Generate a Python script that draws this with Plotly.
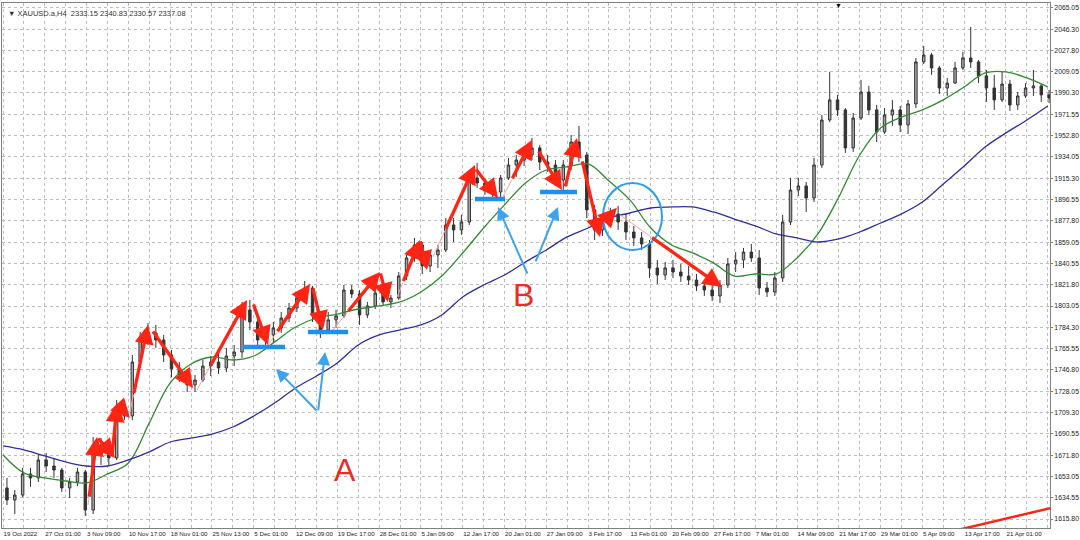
import plotly.graph_objects as go

# ---------------- data ----------------
title_text = "▼ XAUUSD.a,H4  2333.15 2340.83 2330.57 2337.08"

date_labels = ["19 Oct 2022", "27 Oct 01:00", "3 Nov 09:00", "10 Nov 17:00", "18 Nov 01:00",
               "25 Nov 13:00", "5 Dec 01:00", "12 Dec 09:00", "19 Dec 17:00", "28 Dec 01:00",
               "5 Jan 09:00", "12 Jan 17:00", "20 Jan 01:00", "27 Jan 09:00", "3 Feb 17:00",
               "13 Feb 01:00", "20 Feb 09:00", "27 Feb 17:00", "7 Mar 01:00", "14 Mar 09:00",
               "21 Mar 17:00", "29 Mar 01:00", "5 Apr 09:00", "13 Apr 17:00", "21 Apr 01:00"]
label_bars = [0, 32, 64, 96, 128, 160, 192, 224, 256, 288, 320, 352, 384, 416, 448,
              480, 512, 544, 576, 608, 640, 672, 704, 736, 768]

y_tick_labels = ["2065.05", "2046.30", "2027.80", "2009.05", "1990.30", "1971.55", "1952.80",
                 "1934.05", "1915.30", "1896.55", "1877.80", "1859.05", "1840.55", "1821.80",
                 "1803.05", "1784.30", "1765.55", "1746.80", "1728.05", "1709.30", "1690.55",
                 "1671.80", "1653.05", "1634.55", "1615.80"]

# daily candles (H4 bar index of each day's centre = 6*day + 3)
opens = [1643.1, 1632.5, 1636.9, 1655.4, 1651.9, 1667.7, 1662.4, 1658.9, 1643.1, 1648.4,
         1657.1, 1623.7, 1680.9, 1672.1, 1669.5, 1711.6, 1706.4, 1753.8, 1773.2, 1779.3,
         1773.2, 1760.0, 1747.8, 1742.4, 1733.7, 1738.0, 1750.3, 1753.8, 1748.6, 1759.1,
         1762.6, 1799.6, 1789.0, 1773.2, 1777.6, 1783.7, 1792.5, 1801.3, 1810.1, 1818.9,
         1795.2, 1782.0, 1790.8, 1794.3, 1817.1, 1813.6, 1795.2, 1803.1, 1814.5, 1806.6,
         1810.1, 1829.4, 1845.3, 1856.7, 1838.2, 1847.9, 1852.3, 1874.3, 1869.9, 1876.9,
         1915.6, 1911.2, 1906.8, 1903.3, 1915.6, 1927.0, 1931.4, 1935.8, 1942.0, 1929.6,
         1927.0, 1913.8, 1927.0, 1947.2, 1935.8, 1887.5, 1869.9, 1876.9, 1884.0, 1876.9,
         1868.1, 1862.9, 1857.6, 1836.5, 1830.3, 1836.5, 1832.9, 1829.4, 1825.9, 1820.7,
         1817.1, 1811.9, 1821.5, 1840.0, 1843.5, 1850.5, 1845.3, 1818.9, 1815.4, 1827.7,
         1876.9, 1905.0, 1908.6, 1898.0, 1927.0, 1966.6, 1984.2, 1975.4, 1942.0, 1968.3,
         1991.2, 1975.4, 1956.0, 1971.0, 1975.4, 1962.2, 1980.7, 2017.6, 2023.7, 2012.3,
         1994.7, 1999.0, 2012.3, 2021.1, 2017.6, 2005.3, 1994.7, 1984.2, 1998.2, 1979.8,
         1987.7, 1994.7, 1996.5, 1988.6]
highs = [1651.9, 1641.3, 1660.7, 1660.7, 1672.1, 1673.8, 1669.5, 1660.7, 1651.9, 1660.7,
         1658.9, 1687.9, 1687.0, 1680.9, 1720.4, 1717.8, 1760.0, 1780.2, 1788.1, 1786.4,
         1777.6, 1764.4, 1753.8, 1745.0, 1742.4, 1755.6, 1759.1, 1762.6, 1766.2, 1768.8,
         1806.6, 1808.4, 1792.5, 1783.7, 1789.0, 1797.8, 1805.7, 1813.6, 1825.0, 1820.7,
         1797.8, 1797.8, 1799.6, 1821.5, 1821.5, 1817.1, 1806.6, 1818.9, 1818.9, 1812.7,
         1832.9, 1847.9, 1862.9, 1859.3, 1852.3, 1856.7, 1880.4, 1880.4, 1883.1, 1922.6,
         1928.8, 1915.6, 1913.8, 1918.2, 1933.2, 1935.8, 1942.0, 1950.8, 1944.6, 1935.8,
         1931.4, 1931.4, 1953.4, 1961.3, 1938.5, 1891.9, 1880.4, 1889.4, 1891.2, 1884.0,
         1873.4, 1868.1, 1861.1, 1843.5, 1841.8, 1843.5, 1840.0, 1838.2, 1831.2, 1825.9,
         1822.4, 1825.9, 1845.3, 1850.5, 1854.1, 1857.6, 1852.3, 1824.2, 1832.9, 1883.1,
         1915.6, 1915.6, 1912.1, 1933.2, 1971.0, 2008.8, 1988.6, 1977.1, 1972.7, 2001.8,
         1996.5, 1979.8, 1977.1, 1984.2, 1978.9, 1984.2, 2021.1, 2031.6, 2025.5, 2014.1,
         2003.5, 2017.6, 2026.4, 2048.3, 2019.3, 2010.5, 2006.2, 2008.8, 2001.8, 1991.2,
         1999.0, 2010.5, 1998.2, 1993.0]
lows = [1628.1, 1620.2, 1635.2, 1644.0, 1648.4, 1657.1, 1651.9, 1639.6, 1634.3, 1644.8,
        1618.5, 1620.2, 1663.3, 1662.4, 1667.7, 1702.9, 1702.9, 1748.6, 1768.8, 1766.2,
        1753.8, 1740.4, 1736.3, 1727.5, 1727.5, 1736.3, 1741.5, 1743.3, 1745.0, 1750.3,
        1757.4, 1782.0, 1766.2, 1767.1, 1771.4, 1779.3, 1789.0, 1797.8, 1806.6, 1789.0,
        1775.0, 1779.3, 1783.7, 1792.5, 1810.1, 1786.4, 1792.5, 1800.4, 1803.1, 1801.3,
        1808.4, 1825.9, 1841.8, 1831.2, 1832.9, 1836.5, 1850.5, 1859.3, 1865.5, 1874.3,
        1906.8, 1900.7, 1898.0, 1897.1, 1913.8, 1916.5, 1926.1, 1931.4, 1922.6, 1920.9,
        1908.6, 1903.3, 1922.6, 1929.6, 1880.4, 1861.1, 1864.6, 1873.4, 1869.9, 1861.1,
        1855.8, 1852.3, 1827.7, 1822.4, 1825.9, 1827.7, 1824.2, 1821.5, 1816.3, 1811.9,
        1807.5, 1805.7, 1818.9, 1832.9, 1836.5, 1841.8, 1812.7, 1811.0, 1811.9, 1824.2,
        1874.3, 1899.8, 1885.7, 1894.5, 1924.4, 1964.8, 1970.1, 1937.6, 1938.5, 1966.6,
        1971.0, 1947.2, 1954.3, 1961.3, 1956.0, 1954.3, 1977.1, 2015.8, 2006.2, 1989.4,
        1987.7, 1998.2, 2010.5, 2012.3, 1999.0, 1982.4, 1975.4, 1982.4, 1974.5, 1975.4,
        1985.9, 1987.7, 1982.4, 1981.5]
closes = [1632.5, 1636.9, 1655.4, 1651.9, 1667.7, 1662.4, 1658.9, 1643.1, 1648.4, 1657.1,
          1623.7, 1680.9, 1672.1, 1669.5, 1711.6, 1706.4, 1753.8, 1773.2, 1779.3, 1773.2,
          1760.0, 1747.8, 1742.4, 1733.7, 1738.0, 1750.3, 1753.8, 1748.6, 1759.1, 1762.6,
          1799.6, 1789.0, 1773.2, 1777.6, 1783.7, 1792.5, 1801.3, 1810.1, 1818.9, 1795.2,
          1782.0, 1790.8, 1794.3, 1817.1, 1813.6, 1795.2, 1803.1, 1814.5, 1806.6, 1810.1,
          1829.4, 1845.3, 1856.7, 1838.2, 1847.9, 1852.3, 1874.3, 1869.9, 1876.9, 1915.6,
          1911.2, 1906.8, 1903.3, 1915.6, 1927.0, 1931.4, 1935.8, 1942.0, 1929.6, 1927.0,
          1913.8, 1927.0, 1947.2, 1935.8, 1887.5, 1869.9, 1876.9, 1884.0, 1876.9, 1868.1,
          1862.9, 1857.6, 1836.5, 1830.3, 1836.5, 1832.9, 1829.4, 1825.9, 1820.7, 1817.1,
          1811.9, 1821.5, 1840.0, 1843.5, 1850.5, 1845.3, 1818.9, 1815.4, 1827.7, 1876.9,
          1905.0, 1908.6, 1898.0, 1927.0, 1966.6, 1984.2, 1975.4, 1942.0, 1968.3, 1991.2,
          1975.4, 1956.0, 1971.0, 1975.4, 1962.2, 1980.7, 2017.6, 2023.7, 2012.3, 1994.7,
          1999.0, 2012.3, 2021.1, 2017.6, 2005.3, 1994.7, 1984.2, 1998.2, 1979.8, 1987.7,
          1994.7, 1996.5, 1988.6, 1985.9]
candle_bars = [6 * d + 3 for d in range(len(closes))]

# moving averages sampled every 16 H4 bars
ma_bars = list(range(0, 801, 16))
ma_green = [1672.1, 1656.3, 1651.9, 1649.2, 1647.5, 1655.4, 1665.1, 1700.3, 1735.4, 1752.1,
            1758.2, 1755.6, 1759.1, 1771.5, 1784.6, 1792.5, 1796.0, 1800.4, 1803.1, 1806.6,
            1815.4, 1829.4, 1849.7, 1871.6, 1891.9, 1911.2, 1922.6, 1925.3, 1927.9, 1913.0,
            1896.3, 1871.6, 1856.7, 1849.7, 1840.9, 1829.4, 1831.2, 1831.2, 1845.3, 1866.4,
            1898.9, 1935.8, 1959.5, 1969.2, 1975.4, 1984.2, 1995.6, 2007.9, 2008.8, 2003.5,
            1995.6]
ma_blue = [1680.0, 1676.5, 1671.2, 1666.0, 1662.4, 1662.4, 1667.7, 1674.8, 1683.5, 1687.0,
           1690.5, 1696.7, 1706.4, 1717.8, 1731.0, 1741.5, 1753.0, 1768.8, 1777.6, 1782.0,
           1786.4, 1795.2, 1811.0, 1821.5, 1830.3, 1841.7, 1852.3, 1863.8, 1871.6, 1880.4,
           1884.8, 1889.2, 1890.1, 1890.1, 1885.7, 1879.5, 1873.4, 1866.4, 1862.9, 1859.3,
           1862.0, 1868.1, 1876.0, 1884.0, 1894.5, 1910.3, 1926.1, 1942.8, 1955.2, 1966.6,
           1978.9]

# red arrows: (start bar, start price, end bar, end price, share of the path drawn as a thin tail)
red_arrows = [
    (65.1, 1628.1, 72.0, 1687.9, 0.1), (72.0, 1687.9, 85.8, 1669.5, 0.0), (83.5, 1670.4, 87.3, 1717.8, 0.0),
    (88.0, 1716.1, 97.2, 1704.7, 0.0), (97.2, 1709.9, 111.0, 1786.4, 0.2), (114.0, 1782.0, 145.5, 1731.0, 0.0),
    (148.5, 1729.2, 186.8, 1808.4, 0.26), (191.4, 1805.7, 202.9, 1768.8, 0.0), (203.0, 1768.8, 235.1, 1822.4, 0.2),
    (237.0, 1819.8, 245.0, 1782.0, 0.0), (252.7, 1782.0, 288.7, 1832.9, 0.3), (288.7, 1832.9, 294.8, 1806.6, 0.0),
    (301.7, 1811.0, 319.3, 1861.1, 0.25), (319.3, 1861.1, 324.7, 1834.7, 0.0), (329.2, 1846.2, 361.4, 1927.0, 0.29),
    (361.4, 1924.4, 379.0, 1898.0, 0.0), (382.8, 1898.9, 405.0, 1949.0, 0.3), (409.6, 1940.2, 428.0, 1905.0, 0.0),
    (430.3, 1906.8, 439.5, 1950.8, 0.0), (443.3, 1931.4, 457.1, 1863.7, 0.0), (459.4, 1876.0, 470.1, 1889.4, 0.0),
    (472.4, 1883.1, 550.5, 1819.8, 0.3),
]
# blue support levels: (start bar, end bar, price)
blue_levels = [(183.8, 215.9, 1767.1), (233.5, 264.2, 1780.2),
               (361.4, 384.4, 1897.1), (411.2, 439.5, 1903.3)]
# blue pointer arrows: (base bar, base price, tip bar, tip price)
blue_arrows = [(241.2, 1709.9, 209.0, 1747.7), (241.2, 1709.9, 246.6, 1762.6),
               (402.0, 1830.3, 379.0, 1890.1), (407.4, 1840.9, 425.0, 1890.1)]
circle_box = (459.4, 504.6, 1852.3, 1911.2)
trend_line_bars = [731.2, 802.6]
trend_line_prices = [1606.2, 1625.5]
letters = [("A", 261.9, 1658.9), ("B", 398.2, 1812.7)]

# ---------------- figure ----------------
RED = "#ff2414"
BLUE = "#2a9df4"
FONT = "Liberation Sans"

fig = go.Figure()
fig.add_trace(go.Candlestick(
    x=candle_bars, open=opens, high=highs, low=lows, close=closes,
    increasing=dict(line=dict(color="#333333", width=1), fillcolor="#a8a8a8"),
    decreasing=dict(line=dict(color="#333333", width=1), fillcolor="#333333"),
    whiskerwidth=0, hoverinfo="skip", showlegend=False))
fig.add_trace(go.Scatter(x=ma_bars, y=ma_green, mode="lines", line=dict(color="#2e8b2e", width=1.3, shape="spline"),
                         hoverinfo="skip", showlegend=False))
fig.add_trace(go.Scatter(x=ma_bars, y=ma_blue, mode="lines", line=dict(color="#2e2e9e", width=1.3, shape="spline"),
                         hoverinfo="skip", showlegend=False))
fig.add_trace(go.Scatter(x=trend_line_bars, y=trend_line_prices, mode="lines", line=dict(color=RED, width=2.5),
                         hoverinfo="skip", showlegend=False))

annotations = []
shapes = []
for x0, y0, x1, y1, tail in red_arrows:
    xs = x0 + tail * (x1 - x0)
    ys = y0 + tail * (y1 - y0)
    if tail > 0:
        shapes.append(dict(type="line", x0=x0, y0=y0, x1=xs, y1=ys, xref="x", yref="y",
                           line=dict(color="#f6a3a0", width=1)))
    annotations.append(dict(x=x1, y=y1, ax=xs, ay=ys, xref="x", yref="y", axref="x", ayref="y",
                            text="", showarrow=True, arrowhead=2, arrowsize=1.15, arrowwidth=3.3,
                            arrowcolor=RED, standoff=0, startstandoff=0))
for x0, y0, x1, y1 in blue_arrows:
    annotations.append(dict(x=x1, y=y1, ax=x0, ay=y0, xref="x", yref="y", axref="x", ayref="y",
                            text="", showarrow=True, arrowhead=2, arrowsize=1.3, arrowwidth=2,
                            arrowcolor="#3ca3f2", standoff=0))
for t, bx, py in letters:
    annotations.append(dict(x=bx, y=py, xref="x", yref="y", text=t, showarrow=False,
                            font=dict(family=FONT, size=32, color="#ee2a22")))
annotations.append(dict(x=0.004, y=0.993, xref="paper", yref="paper", text=title_text, showarrow=False,
                        xanchor="left", yanchor="top", font=dict(family=FONT, size=7.5, color="#333333")))
annotations.append(dict(x=0.798, y=1.006, xref="paper", yref="paper", text="▼", showarrow=False,
                        xanchor="center", yanchor="top", font=dict(family=FONT, size=7, color="#000000")))

for x0, x1, py in blue_levels:
    shapes.append(dict(type="line", x0=x0, x1=x1, y0=py, y1=py, xref="x", yref="y",
                       line=dict(color="#1e90f0", width=4.5)))
cx0, cx1, cy0, cy1 = circle_box
shapes.append(dict(type="circle", x0=cx0, x1=cx1, y0=cy0, y1=cy1, xref="x", yref="y",
                   line=dict(color=BLUE, width=2)))

tickvals = list(range(0, 801, 16))
ticktext = []
for v in tickvals:
    ticktext.append(date_labels[label_bars.index(v)] if v in label_bars else "")

fig.update_layout(
    width=1080, height=540,
    margin=dict(l=2, r=30, t=3, b=12),
    paper_bgcolor="white", plot_bgcolor="white",
    annotations=annotations, shapes=shapes,
    boxgap=0.55,
    xaxis=dict(range=[-0.8, 801.7], rangeslider=dict(visible=False),
               tickmode="array", tickvals=tickvals, ticktext=ticktext, tickangle=0,
               ticklabelposition="outside right", automargin=False,
               showgrid=True, gridcolor="#bdbdbd", griddash="dot", gridwidth=1,
               showline=True, linecolor="#808080", linewidth=1, mirror=True,
               ticks="",
               tickfont=dict(family=FONT, size=6.2, color="#222222"), zeroline=False),
    yaxis=dict(range=[1607.9, 2069.4], side="right", automargin=False,
               tickmode="array", tickvals=[float(s) for s in y_tick_labels], ticktext=y_tick_labels,
               showgrid=True, gridcolor="#bdbdbd", griddash="dot", gridwidth=1,
               showline=True, linecolor="#808080", linewidth=1, mirror=True,
               ticks="outside", ticklen=2, tickcolor="#808080",
               tickfont=dict(family=FONT, size=6.8, color="#222222"), zeroline=False),
)

fig.write_html("out.html", config={"displayModeBar": False},
               post_script="document.body.style.margin='0';document.body.style.overflow='hidden';")
